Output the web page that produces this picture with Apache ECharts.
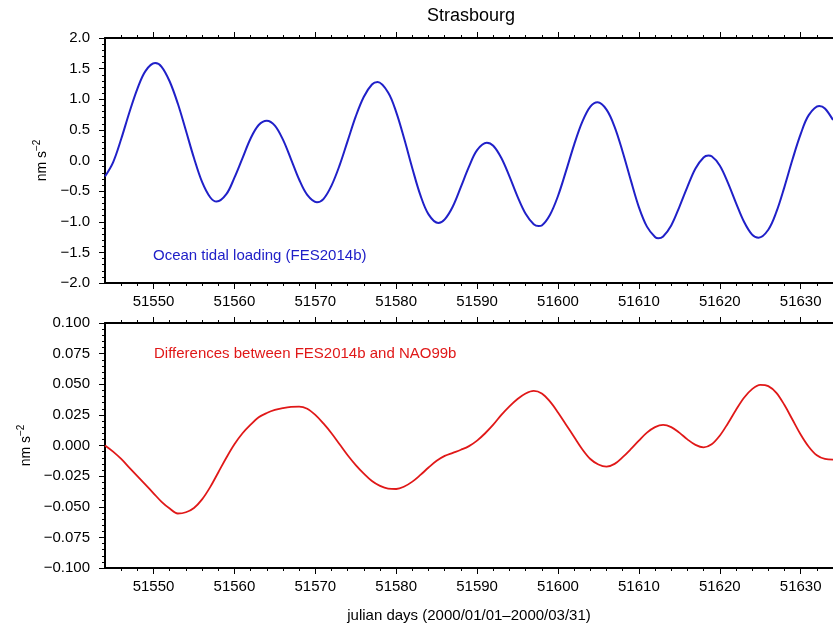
<!DOCTYPE html>
<html>
<head>
<meta charset="utf-8">
<script src="https://cdn.jsdelivr.net/npm/echarts@6/dist/echarts.min.js"></script>
<style>html,body{margin:0;padding:0;background:#fff}#c{width:833px;height:625px}</style>
</head>
<body>
<div id="c"></div>
<script>
// ---- data ----
const titleText = 'Strasbourg';
const xMin = 51544, xMax = 51634;
const xMajor = [51550, 51560, 51570, 51580, 51590, 51600, 51610, 51620, 51630];
const xMinor = [51546, 51548, 51552, 51554, 51556, 51558, 51562, 51564, 51566, 51568,
                51572, 51574, 51576, 51578, 51582, 51584, 51586, 51588, 51592, 51594,
                51596, 51598, 51602, 51604, 51606, 51608, 51612, 51614, 51616, 51618,
                51622, 51624, 51626, 51628, 51632, 51634];

// Ocean tidal loading (FES2014b), nm s^-2
const topDays = [51544, 51545, 51546, 51547, 51548, 51549, 51550.2, 51551, 51552, 51553,
                 51554, 51555, 51556, 51557, 51557.8, 51559, 51560, 51561, 51562, 51563,
                 51564, 51565, 51566, 51567, 51568, 51569, 51570.2, 51571, 51572, 51573,
                 51574, 51575, 51576, 51577, 51577.7, 51579, 51580, 51581, 51582, 51583,
                 51584, 51585.2, 51586, 51587, 51588, 51589, 51590, 51591.2, 51592, 51593,
                 51594, 51595, 51596, 51597, 51597.6, 51598, 51599, 51600, 51601, 51602,
                 51603, 51604, 51604.9, 51606, 51607, 51608, 51609, 51610, 51611, 51612,
                 51612.4, 51613, 51614, 51615, 51616, 51617, 51618, 51618.6, 51619, 51620,
                 51621, 51622, 51623, 51624, 51624.8, 51626, 51627, 51628, 51629, 51630,
                 51631, 51632.3, 51633, 51634];
const topVals = [-0.26, -0.03, 0.35, 0.78, 1.17, 1.46, 1.59, 1.53, 1.29, 0.93,
                 0.49, 0.04, -0.35, -0.60, -0.67, -0.55, -0.28, 0.04, 0.36, 0.58,
                 0.65, 0.57, 0.34, 0.02, -0.31, -0.56, -0.68, -0.63, -0.41, -0.08,
                 0.32, 0.72, 1.04, 1.24, 1.28, 1.11, 0.79, 0.35, -0.13, -0.57,
                 -0.88, -1.02, -0.96, -0.75, -0.43, -0.10, 0.17, 0.29, 0.24, 0.04,
                 -0.26, -0.59, -0.87, -1.04, -1.07, -1.06, -0.89, -0.58, -0.17, 0.26,
                 0.63, 0.88, 0.95, 0.83, 0.55, 0.14, -0.32, -0.76, -1.08, -1.25,
                 -1.27, -1.24, -1.06, -0.76, -0.43, -0.13, 0.05, 0.08, 0.07, -0.08,
                 -0.36, -0.69, -1.00, -1.21, -1.26, -1.13, -0.84, -0.43, 0.02, 0.43,
                 0.74, 0.89, 0.85, 0.66];

// Differences between FES2014b and NAO99b, nm s^-2
const botDays = [51544, 51545, 51546, 51547, 51548, 51549, 51550, 51551, 51552, 51553,
                 51554, 51555, 51556, 51557, 51558, 51559, 51560, 51561, 51562, 51563,
                 51564, 51565, 51566, 51567, 51568, 51569, 51570, 51571, 51572, 51573,
                 51574, 51575, 51576, 51577, 51578, 51579, 51580, 51581, 51582, 51583,
                 51584, 51585, 51586, 51587, 51588, 51589, 51590, 51591, 51592, 51593,
                 51594, 51595, 51596, 51597, 51598, 51599, 51600, 51601, 51602, 51603,
                 51604, 51605, 51606, 51607, 51608, 51609, 51610, 51611, 51612, 51613,
                 51614, 51615, 51616, 51617, 51618, 51619, 51620, 51621, 51622, 51623,
                 51624, 51625, 51626, 51627, 51628, 51629, 51630, 51631, 51632, 51633,
                 51634];
const botVals = [0.000, -0.005, -0.011, -0.018, -0.025, -0.032, -0.039, -0.046, -0.0515, -0.0555,
                 -0.0545, -0.051, -0.044, -0.034, -0.022, -0.010, 0.001, 0.010, 0.017, 0.023,
                 0.0265, 0.029, 0.0305, 0.0315, 0.0318, 0.030, 0.025, 0.018, 0.010, 0.001,
                 -0.008, -0.016, -0.023, -0.029, -0.033, -0.0352, -0.0355, -0.0335, -0.0295, -0.024,
                 -0.018, -0.0125, -0.0085, -0.006, -0.0035, -0.0005, 0.004, 0.010, 0.017, 0.025,
                 0.032, 0.038, 0.0425, 0.0446, 0.0425, 0.036, 0.027, 0.017, 0.007, -0.003,
                 -0.011, -0.0155, -0.0172, -0.015, -0.0095, -0.003, 0.004, 0.0105, 0.015, 0.0168,
                 0.015, 0.0105, 0.005, 0.0005, -0.0015, 0.001, 0.008, 0.018, 0.029, 0.039,
                 0.046, 0.0495, 0.0485, 0.043, 0.033, 0.021, 0.009, -0.001, -0.008, -0.011,
                 -0.0115];

const topLabel = 'Ocean tidal loading (FES2014b)';
const botLabel = 'Differences between FES2014b and NAO99b';
const xName = 'julian days (2000/01/01\u20132000/03/31)';

// ---- styling ----
const FF = "'Liberation Sans', Arial, Helvetica, sans-serif";
const BLUE = '#2020c8';
const RED = '#e01818';
const BLACK = '#000';

function fmt(d) {
  return function (v) { return (v < 0 ? '\u2212' : '') + Math.abs(v).toFixed(d); };
}

function xAxesFor(gi, name) {
  const base = { gridIndex: gi, type: 'value', min: xMin, max: xMax, splitLine: { show: false } };
  return [
    Object.assign({}, base, {
      position: 'bottom',
      axisLine: { show: true, onZero: false, lineStyle: { color: BLACK, width: 2 } },
      axisTick: { show: true, customValues: xMajor, length: 6, lineStyle: { color: BLACK, width: 1 } },
      axisLabel: { show: true, customValues: xMajor, margin: 11, fontSize: 15, color: BLACK, fontFamily: FF,
                   formatter: function (v) { return String(Math.round(v)); } },
      name: name || '', nameLocation: 'middle', nameGap: 40,
      nameTextStyle: { fontSize: 15, color: BLACK, fontFamily: FF }
    }),
    Object.assign({}, base, {
      position: 'bottom',
      axisLine: { show: false, onZero: false },
      axisTick: { show: true, customValues: xMinor, length: 3, lineStyle: { color: BLACK, width: 1 } },
      axisLabel: { show: false }
    }),
    Object.assign({}, base, {
      position: 'top',
      axisLine: { show: true, onZero: false, lineStyle: { color: BLACK, width: 2 } },
      axisTick: { show: true, customValues: xMajor, length: 6, lineStyle: { color: BLACK, width: 1 } },
      axisLabel: { show: false }
    }),
    Object.assign({}, base, {
      position: 'top',
      axisLine: { show: false, onZero: false },
      axisTick: { show: true, customValues: xMinor, length: 3, lineStyle: { color: BLACK, width: 1 } },
      axisLabel: { show: false }
    })
  ];
}

function yAxisFor(gi, min, max, interval, dec, gap) {
  return {
    gridIndex: gi, type: 'value', position: 'left', min: min, max: max, interval: interval,
    axisLine: { show: true, onZero: false, lineStyle: { color: BLACK, width: 2 } },
    axisTick: { show: true, length: 6, lineStyle: { color: BLACK, width: 1 } },
    minorTick: { show: true, splitNumber: 5, length: 3, lineStyle: { color: BLACK, width: 1 } },
    axisLabel: { formatter: fmt(dec), margin: 15, fontSize: 15, color: BLACK, fontFamily: FF },
    splitLine: { show: false },
    minorSplitLine: { show: false },
    name: '{n|nm s}{s|\u22122}', nameLocation: 'middle', nameGap: gap,
    nameTextStyle: {
      color: BLACK, fontFamily: FF,
      rich: {
        n: { fontSize: 14, lineHeight: 20, color: BLACK, fontFamily: FF },
        s: { fontSize: 10, lineHeight: 20, verticalAlign: 'top', color: BLACK, fontFamily: FF }
      }
    }
  };
}

const chart = echarts.init(document.getElementById('c'), null, { renderer: 'canvas' });
chart.setOption({
  animation: false,
  backgroundColor: '#fff',
  grid: [
    { left: 105, top: 38, width: 733, height: 245 },
    { left: 105, top: 323, width: 733, height: 245 }
  ],
  xAxis: xAxesFor(0, '').concat(xAxesFor(1, xName)),
  yAxis: [
    yAxisFor(0, -2, 2, 0.5, 1, 51),
    yAxisFor(1, -0.1, 0.1, 0.025, 3, 69)
  ],
  series: [
    {
      type: 'line', xAxisIndex: 0, yAxisIndex: 0,
      data: topDays.map(function (d, i) { return [d, topVals[i]]; }),
      showSymbol: false, smooth: 0.35, clip: true,
      lineStyle: { color: BLUE, width: 2 }, itemStyle: { color: BLUE }
    },
    {
      type: 'line', xAxisIndex: 4, yAxisIndex: 1,
      data: botDays.map(function (d, i) { return [d, botVals[i]]; }),
      showSymbol: false, smooth: 0.35, clip: true,
      lineStyle: { color: RED, width: 1.8 }, itemStyle: { color: RED }
    }
  ],
  graphic: [
    { type: 'text', x: 471, y: 16, style: { text: titleText, align: 'center', verticalAlign: 'middle', fill: BLACK, font: '18px ' + FF } },
    { type: 'text', x: 153, y: 256, style: { text: topLabel, align: 'left', verticalAlign: 'middle', fill: BLUE, font: '15px ' + FF } },
    { type: 'text', x: 154, y: 354, style: { text: botLabel, align: 'left', verticalAlign: 'middle', fill: RED, font: '15px ' + FF } }
  ]
});
</script>
</body>
</html>
